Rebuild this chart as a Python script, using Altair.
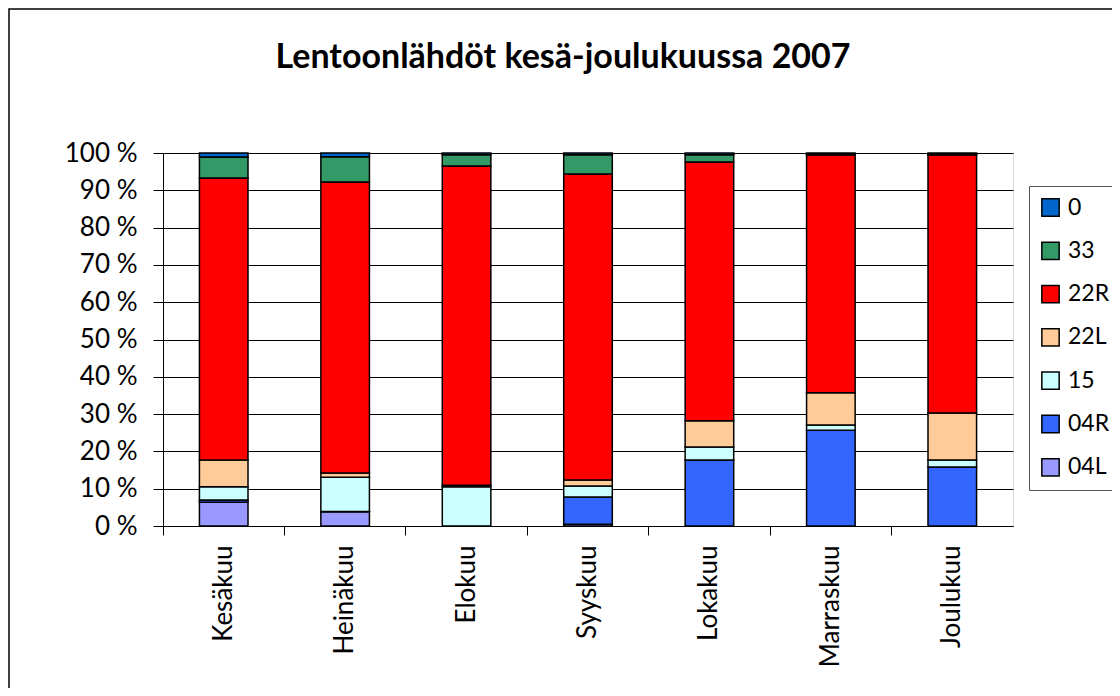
import altair as alt
import pandas as pd

title_text = "Lentoonlähdöt kesä-joulukuussa 2007"
months = ["Kesäkuu", "Heinäkuu", "Elokuu", "Syyskuu", "Lokakuu", "Marraskuu", "Joulukuu"]
series_names = ["0", "33", "22R", "22L", "15", "04R", "04L"]
series_colors = ["#0066CC", "#339966", "#FF0000", "#FFCC99", "#CCFFFF", "#3366FF", "#9999FF"]

s04L = [6.4, 3.8, 0.0, 0.5, 0.0, 0.0, 0.0]
s04R = [0.6, 0.1, 0.0, 7.3, 17.7, 25.7, 15.8]
s15 = [3.5, 9.2, 10.5, 2.9, 3.5, 1.4, 1.9]
s22L = [7.2, 1.1, 0.4, 1.6, 7.0, 8.6, 12.6]
s22R = [75.6, 78.0, 85.6, 82.1, 69.4, 63.8, 69.2]
s33 = [5.6, 6.8, 3.0, 5.1, 1.9, 0.1, 0.1]
s0 = [1.1, 1.0, 0.5, 0.5, 0.5, 0.4, 0.4]

stack_order = ["04L", "04R", "15", "22L", "22R", "33", "0"]
values = {"04L": s04L, "04R": s04R, "15": s15, "22L": s22L, "22R": s22R, "33": s33, "0": s0}

rows = []
for k, name in enumerate(stack_order):
    for i, m in enumerate(months):
        v = values[name][i]
        if v > 0:
            rows.append({"kuukausi": m, "kiitotie": name, "osuus": v, "jarj": k})
df = pd.DataFrame(rows)

FONT = "Lato"

bars = alt.Chart(df).mark_bar(
    width=alt.RelativeBandSize(0.4), stroke="black", strokeWidth=1.5
).encode(
    x=alt.X("kuukausi:N", sort=months, title=None,
            scale=alt.Scale(paddingInner=0, paddingOuter=0),
            axis=alt.Axis(bandPosition=0, labelAngle=-90,
                          labelFontSize=26, labelFont=FONT, labelColor="black",
                          tickSize=9, tickColor="black", domainColor="black",
                          labelPadding=10, grid=False)),
    y=alt.Y("osuus:Q", stack="normalize", title=None,
            scale=alt.Scale(domain=[0, 1]),
            axis=alt.Axis(values=[i / 10 for i in range(11)],
                          labelExpr="round(datum.value*100) + ' %'",
                          labelFontSize=26, labelFont=FONT, labelColor="black",
                          tickSize=10, tickColor="black", domainColor="black",
                          labelPadding=16, grid=True, gridColor="black", gridOpacity=1)),
    color=alt.Color("kiitotie:N", scale=alt.Scale(domain=series_names, range=series_colors),
                    legend=alt.Legend(title=None, orient="none", legendX=866, legendY=33,
                                      symbolType="square", symbolSize=300,
                                      symbolStrokeColor="black", symbolStrokeWidth=1.5,
                                      symbolOpacity=1,
                                      labelFontSize=23, labelFont=FONT, labelColor="black",
                                      rowPadding=18.3, padding=10,
                                      strokeColor="#555555", labelOffset=6)),
    order=alt.Order("jarj:Q", sort="ascending"),
)

title = alt.Chart(pd.DataFrame({"t": [title_text]})).mark_text(
    font=FONT, fontSize=34, fontWeight="bold", color="black", align="center", baseline="middle"
).encode(
    text="t:N", x=alt.value(400), y=alt.value(-95)
)

border = alt.Chart(pd.DataFrame({"a": [0]})).mark_rect(
    filled=False, stroke="black", strokeWidth=1.5
).encode(
    x=alt.value(-154), x2=alt.value(1100), y=alt.value(-144), y2=alt.value(700)
)

chart = alt.layer(bars, title, border).properties(
    width=850, height=373,
    autosize=alt.AutoSizeParams(type="none"),
    padding={"left": 155, "top": 145, "right": 99, "bottom": 162},
).configure_view(stroke="#999999", strokeWidth=1.5).configure(background="white")

chart.save("out.html", embed_options={"renderer": "svg", "actions": False})
